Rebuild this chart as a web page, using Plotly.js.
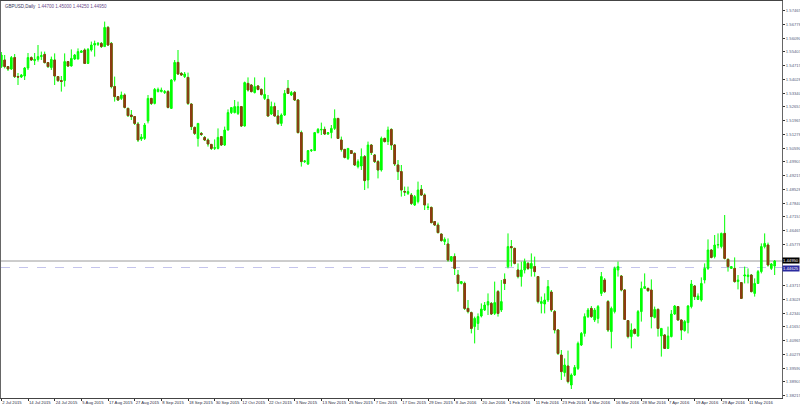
<!DOCTYPE html>
<html><head><meta charset="utf-8">
<script src="https://cdn.plot.ly/plotly-3.0.1.min.js"></script>
<style>html,body{margin:0;padding:0;background:#fff;}#chart{width:800px;height:408px;}</style>
</head><body><div id="chart"></div>
<script>
const symbol = "GBPUSD,Daily";
const open = [1.5467,1.5500,1.5467,1.5455,1.5512,1.5417,1.5415,1.5420,1.5460,1.5512,1.5497,1.5503,1.5517,1.5528,1.5487,1.5462,1.5500,1.5417,1.5397,1.5397,1.5492,1.5470,1.5505,1.5505,1.5538,1.5550,1.5483,1.5550,1.5575,1.5578,1.5583,1.5567,1.5663,1.5583,1.5367,1.5317,1.5308,1.5325,1.5258,1.5225,1.5217,1.5180,1.5105,1.5108,1.5195,1.5308,1.5283,1.5342,1.5342,1.5337,1.5342,1.5258,1.5400,1.5488,1.5433,1.5417,1.5413,1.5280,1.5163,1.5108,1.5133,1.5113,1.5100,1.5078,1.5058,1.5058,1.5117,1.5075,1.5150,1.5237,1.5237,1.5233,1.5267,1.5170,1.5383,1.5375,1.5337,1.5370,1.5353,1.5308,1.5303,1.5230,1.5267,1.5220,1.5183,1.5225,1.5358,1.5325,1.5338,1.5300,1.5137,1.4992,1.4980,1.5047,1.5047,1.5137,1.5150,1.5153,1.5130,1.5137,1.5158,1.5208,1.5100,1.5053,1.5008,1.5047,1.5033,1.4967,1.4970,1.5017,1.4900,1.5075,1.5025,1.4992,1.4950,1.5108,1.5092,1.5153,1.5075,1.4975,1.4942,1.4842,1.4833,1.4825,1.4775,1.4792,1.4853,1.4825,1.4763,1.4763,1.4692,1.4675,1.4630,1.4592,1.4580,1.4497,1.4517,1.4425,1.4383,1.4383,1.4258,1.4237,1.4167,1.4183,1.4220,1.4250,1.4275,1.4283,1.4233,1.4342,1.4250,1.4403,1.4467,1.4567,1.4558,1.4450,1.4417,1.4450,1.4483,1.4458,1.4467,1.4417,1.4283,1.4280,1.4300,1.4340,1.4242,1.4150,1.4025,1.3937,1.3970,1.3875,1.3925,1.3958,1.4075,1.4133,1.4217,1.4258,1.4200,1.4208,1.4333,1.4400,1.4292,1.4142,1.4242,1.4450,1.4420,1.4350,1.4197,1.4117,1.4153,1.4120,1.4242,1.4358,1.4358,1.4350,1.4213,1.4253,1.4120,1.4125,1.4058,1.4117,1.4230,1.4267,1.4200,1.4147,1.4187,1.4267,1.4370,1.4303,1.4300,1.4400,1.4458,1.4550,1.4517,1.4575,1.4567,1.4633,1.4503,1.4458,1.4458,1.4392,1.4387,1.4420,1.4417,1.4425,1.4333,1.4383,1.4442,1.4567,1.4575,1.4458,1.4470];
const high = [1.5540,1.5525,1.5470,1.5520,1.5530,1.5435,1.5430,1.5465,1.5535,1.5518,1.5535,1.5575,1.5542,1.5542,1.5490,1.5517,1.5533,1.5420,1.5420,1.5533,1.5495,1.5553,1.5530,1.5558,1.5550,1.5558,1.5560,1.5592,1.5597,1.5590,1.5590,1.5692,1.5670,1.5590,1.5417,1.5320,1.5342,1.5333,1.5262,1.5250,1.5220,1.5190,1.5130,1.5185,1.5325,1.5310,1.5360,1.5362,1.5362,1.5350,1.5350,1.5405,1.5500,1.5550,1.5440,1.5440,1.5437,1.5283,1.5167,1.5185,1.5140,1.5120,1.5108,1.5080,1.5103,1.5158,1.5120,1.5167,1.5253,1.5263,1.5300,1.5292,1.5270,1.5392,1.5413,1.5380,1.5413,1.5375,1.5358,1.5413,1.5325,1.5292,1.5287,1.5250,1.5233,1.5350,1.5400,1.5345,1.5345,1.5305,1.5147,1.5000,1.5050,1.5055,1.5140,1.5160,1.5187,1.5167,1.5140,1.5175,1.5253,1.5210,1.5117,1.5055,1.5060,1.5050,1.5038,1.5003,1.5058,1.5025,1.5092,1.5080,1.5030,1.5000,1.5117,1.5112,1.5167,1.5158,1.5080,1.5000,1.4975,1.4867,1.4867,1.4835,1.4825,1.4892,1.4875,1.4833,1.4783,1.4767,1.4695,1.4687,1.4632,1.4613,1.4608,1.4520,1.4533,1.4450,1.4395,1.4392,1.4300,1.4242,1.4217,1.4233,1.4283,1.4290,1.4333,1.4290,1.4392,1.4350,1.4400,1.4433,1.4633,1.4600,1.4562,1.4483,1.4492,1.4507,1.4490,1.4533,1.4517,1.4420,1.4317,1.4333,1.4400,1.4350,1.4250,1.4155,1.4050,1.4008,1.4047,1.3933,1.3975,1.4092,1.4140,1.4233,1.4260,1.4270,1.4260,1.4275,1.4440,1.4410,1.4300,1.4267,1.4467,1.4492,1.4425,1.4355,1.4200,1.4183,1.4158,1.4250,1.4392,1.4433,1.4362,1.4403,1.4267,1.4258,1.4160,1.4130,1.4167,1.4250,1.4275,1.4270,1.4203,1.4200,1.4275,1.4400,1.4375,1.4333,1.4413,1.4483,1.4603,1.4555,1.4625,1.4633,1.4637,1.4725,1.4508,1.4470,1.4513,1.4425,1.4390,1.4467,1.4458,1.4430,1.4408,1.4450,1.4583,1.4633,1.4587,1.4485,1.4500];
const low = [1.5460,1.5458,1.5445,1.5450,1.5410,1.5375,1.5410,1.5400,1.5450,1.5495,1.5475,1.5492,1.5500,1.5483,1.5460,1.5450,1.5375,1.5390,1.5342,1.5367,1.5465,1.5467,1.5500,1.5503,1.5535,1.5480,1.5480,1.5542,1.5517,1.5570,1.5560,1.5567,1.5570,1.5358,1.5292,1.5295,1.5300,1.5258,1.5215,1.5200,1.5175,1.5090,1.5095,1.5100,1.5183,1.5275,1.5278,1.5338,1.5338,1.5330,1.5258,1.5255,1.5392,1.5425,1.5420,1.5410,1.5275,1.5150,1.5125,1.5067,1.5120,1.5095,1.5067,1.5050,1.5050,1.5053,1.5070,1.5070,1.5147,1.5230,1.5233,1.5225,1.5165,1.5167,1.5342,1.5338,1.5333,1.5348,1.5322,1.5300,1.5217,1.5225,1.5217,1.5175,1.5170,1.5220,1.5330,1.5320,1.5295,1.5133,1.4967,1.4985,1.4975,1.5040,1.5045,1.5133,1.5125,1.5125,1.5125,1.5108,1.5150,1.5105,1.5042,1.5008,1.5000,1.5030,1.4970,1.4958,1.4950,1.4850,1.4858,1.5025,1.4985,1.4908,1.4942,1.5088,1.5075,1.5050,1.4970,1.4900,1.4817,1.4820,1.4825,1.4775,1.4770,1.4783,1.4820,1.4750,1.4750,1.4683,1.4670,1.4633,1.4592,1.4575,1.4492,1.4490,1.4425,1.4342,1.4378,1.4250,1.4233,1.4133,1.4083,1.4150,1.4213,1.4245,1.4225,1.4225,1.4225,1.4217,1.4240,1.4350,1.4458,1.4467,1.4478,1.4408,1.4367,1.4433,1.4450,1.4417,1.4417,1.4283,1.4233,1.4233,1.4290,1.4240,1.4133,1.4025,1.3900,1.3917,1.3883,1.3855,1.3920,1.3950,1.4070,1.4117,1.4210,1.4210,1.4190,1.4183,1.4320,1.4335,1.4140,1.4058,1.4233,1.4417,1.4343,1.4200,1.4108,1.4058,1.4128,1.4117,1.4192,1.4355,1.4340,1.4158,1.4208,1.4117,1.4017,1.4055,1.4055,1.4113,1.4225,1.4197,1.4100,1.4142,1.4133,1.4258,1.4300,1.4300,1.4292,1.4383,1.4450,1.4508,1.4508,1.4558,1.4558,1.4503,1.4442,1.4455,1.4387,1.4353,1.4305,1.4383,1.4383,1.4338,1.4317,1.4380,1.4433,1.4558,1.4467,1.4450,1.4425];
const close = [1.5525,1.5467,1.5455,1.5512,1.5417,1.5415,1.5425,1.5460,1.5512,1.5500,1.5503,1.5517,1.5522,1.5487,1.5467,1.5503,1.5420,1.5397,1.5393,1.5492,1.5470,1.5508,1.5525,1.5542,1.5545,1.5483,1.5553,1.5575,1.5583,1.5583,1.5567,1.5663,1.5575,1.5367,1.5317,1.5300,1.5325,1.5263,1.5222,1.5217,1.5183,1.5100,1.5115,1.5175,1.5308,1.5283,1.5353,1.5353,1.5350,1.5342,1.5263,1.5400,1.5488,1.5430,1.5425,1.5430,1.5283,1.5167,1.5133,1.5183,1.5128,1.5100,1.5080,1.5058,1.5062,1.5113,1.5075,1.5150,1.5237,1.5262,1.5267,1.5267,1.5170,1.5387,1.5350,1.5342,1.5367,1.5353,1.5328,1.5328,1.5220,1.5267,1.5220,1.5183,1.5225,1.5333,1.5333,1.5337,1.5300,1.5137,1.4992,1.4995,1.5047,1.5050,1.5137,1.5153,1.5153,1.5130,1.5137,1.5158,1.5208,1.5108,1.5053,1.5013,1.5058,1.5033,1.4975,1.4992,1.5017,1.4897,1.5075,1.5037,1.4992,1.4950,1.5108,1.5092,1.5150,1.5075,1.4980,1.4942,1.4850,1.4840,1.4842,1.4783,1.4817,1.4850,1.4825,1.4775,1.4765,1.4687,1.4675,1.4637,1.4597,1.4603,1.4500,1.4517,1.4458,1.4383,1.4392,1.4258,1.4242,1.4158,1.4208,1.4217,1.4255,1.4275,1.4292,1.4230,1.4287,1.4233,1.4292,1.4383,1.4567,1.4562,1.4483,1.4417,1.4450,1.4492,1.4458,1.4483,1.4442,1.4292,1.4292,1.4300,1.4367,1.4250,1.4150,1.4033,1.3942,1.3975,1.3892,1.3925,1.3963,1.4083,1.4133,1.4217,1.4250,1.4217,1.4250,1.4267,1.4417,1.4342,1.4150,1.4258,1.4458,1.4467,1.4350,1.4203,1.4117,1.4150,1.4133,1.4242,1.4358,1.4367,1.4347,1.4217,1.4253,1.4158,1.4158,1.4058,1.4120,1.4230,1.4270,1.4200,1.4150,1.4192,1.4270,1.4380,1.4317,1.4320,1.4383,1.4458,1.4550,1.4513,1.4575,1.4577,1.4633,1.4508,1.4467,1.4467,1.4392,1.4400,1.4308,1.4425,1.4425,1.4342,1.4383,1.4442,1.4567,1.4583,1.4475,1.4480,1.4495];
const dateLabels = ["2 Jul 2015","14 Jul 2015","24 Jul 2015","5 Aug 2015","17 Aug 2015","27 Aug 2015","8 Sep 2015","18 Sep 2015","30 Sep 2015","12 Oct 2015","22 Oct 2015","3 Nov 2015","13 Nov 2015","25 Nov 2015","7 Dec 2015","17 Dec 2015","29 Dec 2015","8 Jan 2016","20 Jan 2016","1 Feb 2016","11 Feb 2016","23 Feb 2016","4 Mar 2016","16 Mar 2016","28 Mar 2016","7 Apr 2016","19 Apr 2016","29 Apr 2016","11 May 2016"];
const labelEvery = 8;
const askLevel = 1.44625;
const priceTickTop = 1.57465, priceTickStep = 0.006875, priceTickCount = 29;

const idx = open.map((_, i) => i);
const last = close.length - 1;
const bidLevel = close[last];
const fmt = v => v.toFixed(5);

// price scale labels (those hidden under the bid/ask boxes are left out, as in the reference)
const yTicks = [];
for (let k = 0; k < priceTickCount; k++) {
  const v = +(priceTickTop - k * priceTickStep).toFixed(5);
  if (Math.abs(v - bidLevel) > 0.004 && Math.abs(v - askLevel) > 0.004) yTicks.push(v);
}

// bear bodies overlay (no wicks) so bear wicks stay lime while bodies are brown
const bearX = [], bearO = [], bearC = [];
idx.forEach(i => { if (close[i] < open[i]) { bearX.push(i); bearO.push(open[i]); bearC.push(close[i]); } });

const BULL = '#00ff00', BEAR = '#8e3a12';
const traces = [
  { type: 'candlestick', x: idx, open, high, low, close,
    increasing: { line: { color: BULL, width: 1 }, fillcolor: BULL },
    decreasing: { line: { color: BULL, width: 1 }, fillcolor: BEAR },
    whiskerwidth: 0, hoverinfo: 'skip', showlegend: false },
  { type: 'candlestick', x: bearX, open: bearO, high: bearO, low: bearC, close: bearC,
    increasing: { line: { color: BEAR, width: 1 }, fillcolor: BEAR },
    decreasing: { line: { color: BEAR, width: 1 }, fillcolor: BEAR },
    whiskerwidth: 0, hoverinfo: 'skip', showlegend: false }
];

const tickFont = { family: 'Liberation Sans, Arial, sans-serif', size: 4.2, color: '#2a2a40' };
const layout = {
  width: 800, height: 408,
  margin: { l: 1, r: 18, t: 1, b: 10, pad: 0 },
  paper_bgcolor: '#ffffff', plot_bgcolor: '#ffffff',
  showlegend: false,
  xaxis: {
    type: 'linear', range: [-0.1, 234.2],
    tickvals: dateLabels.map((_, i) => i * labelEvery), ticktext: dateLabels,
    tickangle: 0, automargin: false,
    ticks: 'outside', ticklen: 2, tickcolor: '#333', tickwidth: 1,
    ticklabelposition: 'outside right',
    tickfont: tickFont, showgrid: false, zeroline: false,
    showline: true, mirror: true, linecolor: '#444', linewidth: 1,
    rangeslider: { visible: false }, fixedrange: true
  },
  yaxis: {
    side: 'right', range: [1.381, 1.5795], automargin: false,
    tickmode: 'array', tickvals: yTicks, tickformat: '.5f',
    ticks: 'outside', ticklen: 2, tickcolor: '#333',
    tickfont: Object.assign({}, tickFont, { color: '#556080' }),
    showgrid: false, zeroline: false,
    showline: true, mirror: true, linecolor: '#666', linewidth: 1, fixedrange: true
  },
  shapes: [
    { type: 'line', xref: 'paper', x0: 0, x1: 1, yref: 'y', y0: bidLevel, y1: bidLevel,
      line: { color: '#9a9a9a', width: 1 }, layer: 'below' },
    { type: 'line', xref: 'paper', x0: 0, x1: 1, yref: 'y', y0: askLevel, y1: askLevel,
      line: { color: '#c4c4ec', width: 1, dash: 'dash' }, layer: 'below' }
  ],
  annotations: [
    { xref: 'paper', yref: 'paper', x: 0.002, y: 0.998, xanchor: 'left', yanchor: 'top', showarrow: false,
      text: '<span style="color:#34345a">' + symbol + '</span>  <span style="color:#6a4a8a">' +
        [open[last], high[last], low[last], close[last]].map(fmt).join(' ') + '</span>',
      font: { family: 'Liberation Sans, Arial, sans-serif', size: 4.5 } },
    { xref: 'paper', yref: 'y', x: 1, y: bidLevel, xanchor: 'left', yanchor: 'bottom', yshift: -2.6, showarrow: false,
      text: fmt(bidLevel), bgcolor: '#000000', borderpad: 0,
      font: { family: 'Liberation Sans, Arial, sans-serif', size: 4.2, color: '#ffffff' } },
    { xref: 'paper', yref: 'y', x: 1, y: askLevel, xanchor: 'left', yanchor: 'top', yshift: 2.6, showarrow: false,
      text: fmt(askLevel), bgcolor: '#2a2aa0', borderpad: 0,
      font: { family: 'Liberation Sans, Arial, sans-serif', size: 4.2, color: '#ffffff' } }
  ]
};
Plotly.newPlot('chart', traces, layout, { displayModeBar: false, staticPlot: true });
</script></body></html>
